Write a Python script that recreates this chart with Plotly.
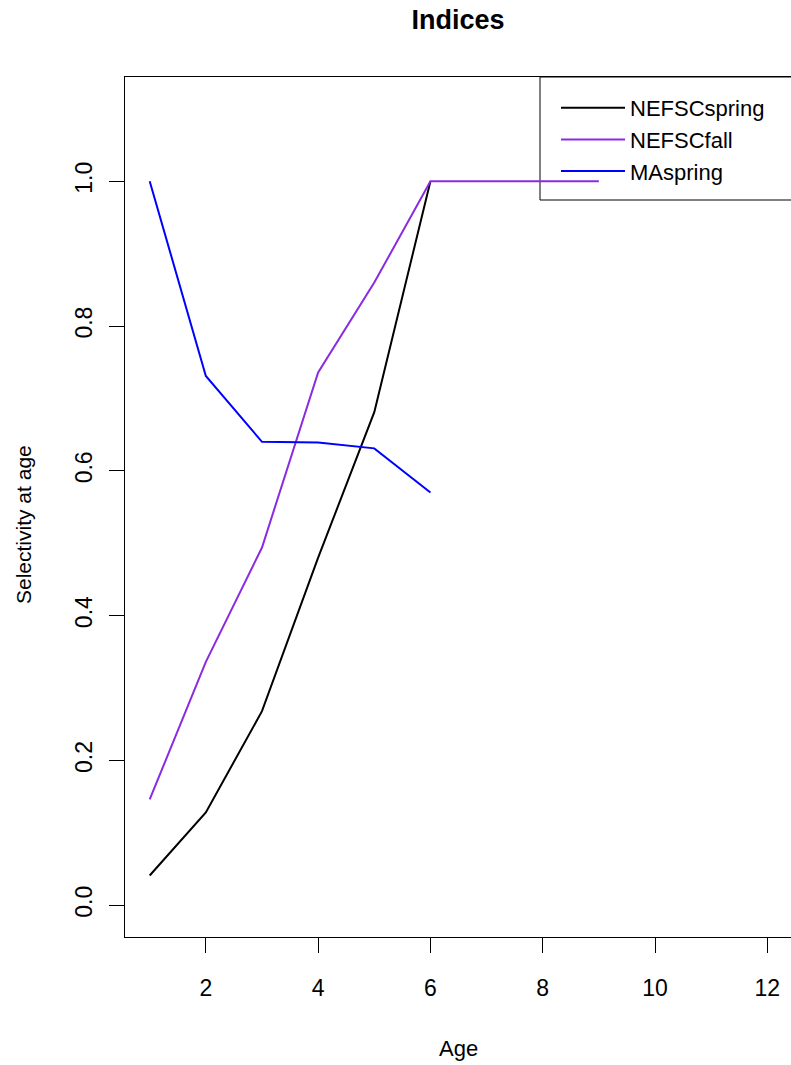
import plotly.graph_objects as go

ages = [1, 2, 3, 4, 5, 6, 7, 8, 9]
nefsc_spring = [0.041, 0.128, 0.268, 0.48, 0.681, 1.0]
nefsc_fall = [0.146, 0.336, 0.494, 0.736, 0.860, 1.0, 1.0, 1.0, 1.0]
ma_spring = [1.0, 0.731, 0.640, 0.639, 0.631, 0.570]

series = [
    ("NEFSCspring", nefsc_spring, "#000000"),
    ("NEFSCfall", nefsc_fall, "#8A2BE2"),
    ("MAspring", ma_spring, "#0000FF"),
]

FONT = "Liberation Sans, Arial, sans-serif"
W, H = 792, 1065
L, R, T = 125, 0, 77
B = H - 937

fig = go.Figure()
for name, vals, col in series:
    fig.add_trace(go.Scatter(
        x=ages[:len(vals)], y=vals, mode="lines", name=name, legendgroup=name,
        line=dict(color=col, width=2),
    ))

pw = W - L - R
ph = H - T - B

def px_x(p):
    return (p - L) / pw

def px_y(p):
    return (H - B - p) / ph

fig.update_layout(
    width=W, height=H,
    margin=dict(l=L, r=R, t=T, b=B, autoexpand=False),
    paper_bgcolor="white", plot_bgcolor="white",
    font=dict(family=FONT, size=22, color="black"),
    title=dict(text="<b>Indices</b>", x=px_x(458), xanchor="center",
               xref="paper", y=1 - 20 / H, yanchor="middle", font=dict(size=27)),
    showlegend=True,
    legend=dict(x=px_x(556), y=px_y(87), xanchor="left", yanchor="top",
                bgcolor="rgba(0,0,0,0)", borderwidth=0,
                font=dict(size=22), itemwidth=64, tracegroupgap=0),
    shapes=[dict(type="rect", xref="paper", yref="paper",
                 x0=px_x(540), x1=px_x(810), y0=px_y(200), y1=px_y(77),
                 line=dict(color="black", width=1), fillcolor="white",
                 layer="below")],
    xaxis=dict(range=[0.56, 12.44], tickvals=[2, 4, 6, 8, 10, 12],
               showgrid=False, zeroline=False, showline=True, mirror=True,
               linecolor="black", linewidth=1, ticks="outside", ticklen=15,
               tickcolor="black", tickfont=dict(size=23), automargin=False,
               ticklabelstandoff=15),
    yaxis=dict(range=[-0.044, 1.144], tickvals=[0, 0.2, 0.4, 0.6, 0.8, 1.0],
               ticktext=["0.0", "0.2", "0.4", "0.6", "0.8", "1.0"],
               tickangle=-90, automargin=False,
               showgrid=False, zeroline=False, showline=True, mirror=True,
               linecolor="black", linewidth=1, ticks="outside", ticklen=15,
               tickcolor="black", tickfont=dict(size=23), ticklabelstandoff=8),
    annotations=[
        dict(text="Age", xref="paper", yref="paper", x=px_x(458), y=px_y(1048),
             xanchor="center", yanchor="middle", showarrow=False,
             font=dict(size=22)),
        dict(text="Selectivity at age", xref="paper", yref="paper",
             x=px_x(23), y=px_y(525), xanchor="center", yanchor="middle",
             textangle=-90, showarrow=False, font=dict(size=21)),
    ],
)

fig.write_html(
    "out.html",
    config={"displayModeBar": False},
    post_script="document.body.style.margin='0';document.body.style.overflow='hidden';",
)
